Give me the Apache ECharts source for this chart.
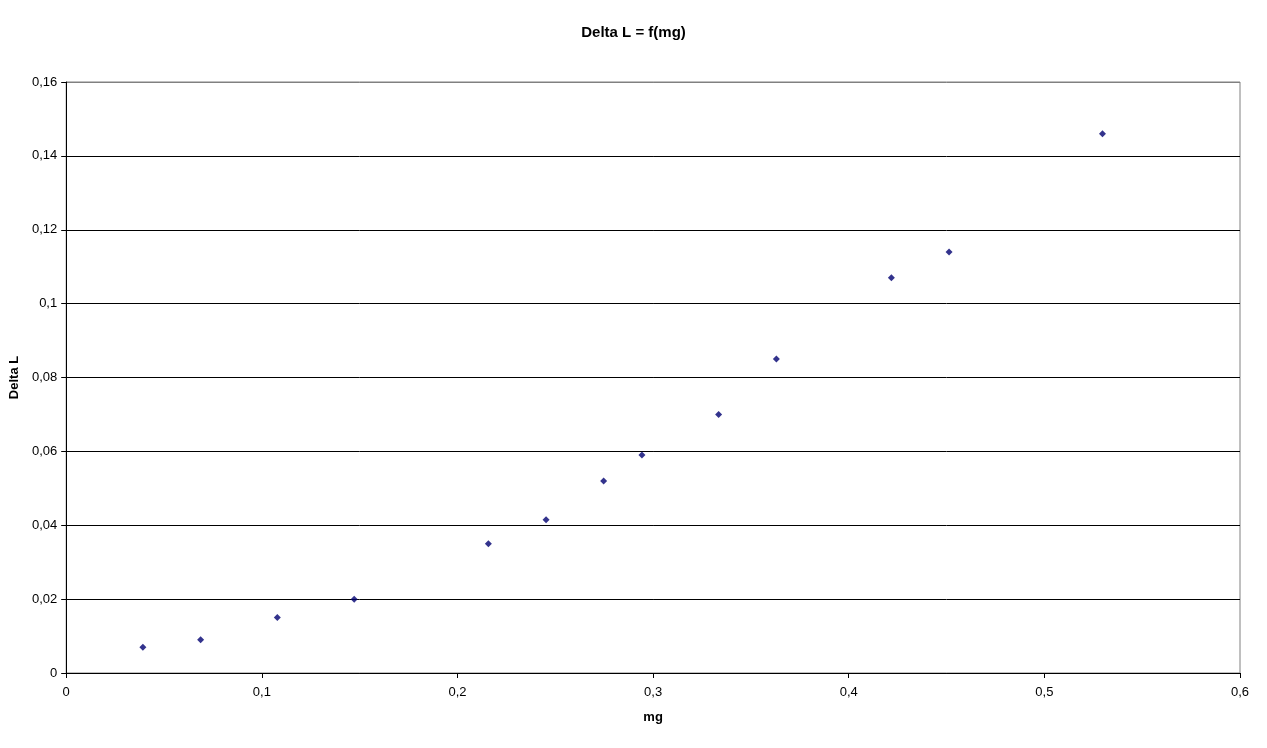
<!DOCTYPE html>
<html>
<head>
<meta charset="utf-8">
<script src="https://cdn.jsdelivr.net/npm/echarts@6/dist/echarts.min.js"></script>
<style>html,body{margin:0;padding:0;background:#fff;}#c{width:1267px;height:748px;}</style>
</head>
<body>
<div id="c"></div>
<script>
var titleText = 'Delta L = f(mg)';
var xName = 'mg';
var yName = 'Delta L';
var mgValues = [0.0392, 0.0687, 0.1079, 0.1472, 0.2158, 0.2453, 0.2747, 0.2943, 0.3335, 0.3630, 0.4218, 0.4513, 0.5297];
var deltaLValues = [0.007, 0.009, 0.015, 0.020, 0.035, 0.0415, 0.052, 0.059, 0.070, 0.085, 0.107, 0.114, 0.146];

var points = mgValues.map(function (x, i) { return [x, deltaLValues[i]]; });
function comma(v) { return String(Math.round(v * 1000) / 1000).replace('.', ','); }
var font = 'Arial, "Liberation Sans", sans-serif';

var chart = echarts.init(document.getElementById('c'));
chart.setOption({
  backgroundColor: '#ffffff',
  animation: false,
  title: {
    text: titleText, left: 'center', top: 20,
    textStyle: { fontFamily: font, fontSize: 15, fontWeight: 'bold', color: '#000' }
  },
  grid: { left: 65, right: 27, top: 82, bottom: 75, show: true, borderColor: '#808080', borderWidth: 1, backgroundColor: 'transparent' },
  xAxis: {
    type: 'value', min: 0, max: 0.6, interval: 0.1,
    name: xName, nameLocation: 'middle', nameGap: 38,
    nameTextStyle: { fontFamily: font, fontSize: 13, fontWeight: 'bold', color: '#000' },
    axisLine: { show: true, onZero: false, lineStyle: { color: '#000', width: 1 } },
    axisTick: { show: true, length: 5, lineStyle: { color: '#000' } },
    axisLabel: { formatter: comma, fontFamily: font, fontSize: 13, color: '#000', margin: 13 },
    splitLine: { show: false }
  },
  yAxis: {
    type: 'value', min: 0, max: 0.16, interval: 0.02,
    name: yName, nameLocation: 'middle', nameGap: 40,
    nameTextStyle: { fontFamily: font, fontSize: 13, fontWeight: 'bold', color: '#000' },
    axisLine: { show: true, onZero: false, lineStyle: { color: '#000', width: 1 } },
    axisTick: { show: true, length: 5, lineStyle: { color: '#000' } },
    axisLabel: { formatter: comma, fontFamily: font, fontSize: 13, color: '#000', margin: 9 },
    splitLine: { show: true, lineStyle: { color: ['#000','#000','#000','#000','#000','#000','#000','#000','#808080'], width: 1 } }
  },
  series: [{
    type: 'scatter',
    data: points,
    symbol: 'diamond',
    symbolSize: 7,
    itemStyle: { color: '#000070' }
  }]
});
</script>
</body>
</html>
